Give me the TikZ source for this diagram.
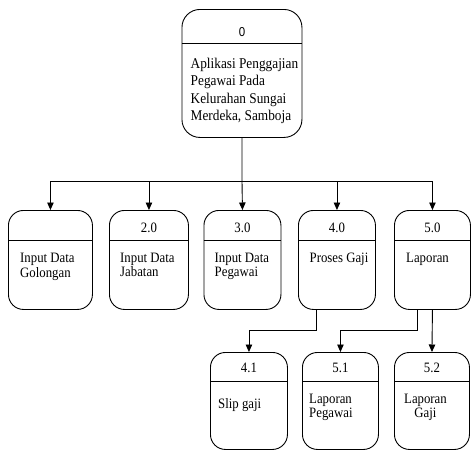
\documentclass[tikz,border=0pt]{standalone}
\usepackage{fontspec}
\usepackage{graphicx}
\setmainfont{Liberation Serif}
\newfontfamily\numsans{Liberation Sans}
\newcommand{\vstr}[1]{\scalebox{1}[1.12]{#1}}
\usetikzlibrary{arrows.meta}
\tikzset{
  proc/.style={draw, line width=0.9pt, rounded corners=15pt, inner sep=0pt, anchor=north west},
  topproc/.style={proc, rounded corners=18pt},
  divline/.style={line width=0.9pt},
  lbl/.style={inner sep=0pt, anchor=base west, font=\fontsize{12.8}{15}\selectfont},
  toplbl/.style={lbl, font=\fontsize{13.3}{15}\selectfont},
  clbl/.style={lbl, anchor=base},
  num/.style={inner sep=0pt, anchor=base, font=\fontsize{12.8}{15}\selectfont},
  conn/.style={line width=0.9pt},
  arr/.style={conn, -{Triangle[length=7.5pt,width=6.5pt]}}
}
\begin{document}
\begin{tikzpicture}[x=1pt,y=-1pt]
\useasboundingbox (0,0) rectangle (471,450);
% top process
\node[topproc, minimum width=120pt, minimum height=128pt] (P0) at (181.5,9) {};
\draw[divline] (P0.west |- 0,43) -- (P0.east |- 0,43);
\node[inner sep=0pt, anchor=base, font=\numsans\fontsize{11.5}{12}\selectfont] (n0) at (242,36) {\vstr{0}};
\node[toplbl] (t0a) at (190.5,68) {\vstr{Aplikasi Penggajian}};
\node[toplbl] (t0b) at (190.5,85.5) {\vstr{Pegawai Pada}};
\node[toplbl] (t0c) at (190.5,103) {\vstr{Kelurahan Sungai}};
\node[toplbl] (t0d) at (190.5,120.5) {\vstr{Merdeka, Samboja}};
% row 1
\node[proc, minimum width=84pt, minimum height=99pt] (B1) at (8,210) {};
\node[proc, minimum width=79pt, minimum height=99pt] (B2) at (109,210) {};
\node[proc, minimum width=77pt, minimum height=99pt] (B3) at (203.5,210) {};
\node[proc, minimum width=77pt, minimum height=99pt] (B4) at (298,210) {};
\node[proc, minimum width=76pt, minimum height=99pt] (B5) at (394,210) {};
\foreach \b in {B1,B2,B3,B4,B5} \draw[divline] (\b.west |- 0,240) -- (\b.east |- 0,240);
\node[num] (n2) at (B2.north |- 0,232.5) {\vstr{2.0}};
\node[num] (n3) at (B3.north |- 0,232.5) {\vstr{3.0}};
\node[num] (n4) at (B4.north |- 0,232.5) {\vstr{4.0}};
\node[num] (n5) at (B5.north |- 0,232.5) {\vstr{5.0}};
\node[lbl] (t1a) at (20,262.7) {\vstr{Input Data}};
\node[lbl] (t1b) at (20,277.3) {\vstr{Golongan}};
\node[lbl] (t2a) at (120,262) {\vstr{Input Data}};
\node[lbl] (t2b) at (120,276.7) {\vstr{Jabatan}};
\node[lbl] (t3a) at (214.5,262) {\vstr{Input Data}};
\node[lbl] (t3b) at (214.5,276.7) {\vstr{Pegawai}};
\node[clbl] (t4a) at (339,262.7) {\vstr{Proses Gaji}};
\node[lbl] (t5a) at (406,262.7) {\vstr{Laporan}};
% row 2
\node[proc, minimum width=77pt, minimum height=97pt] (B41) at (210,352) {};
\node[proc, minimum width=76pt, minimum height=97pt] (B51) at (302,352) {};
\node[proc, minimum width=75pt, minimum height=97pt] (B52) at (394,352) {};
\foreach \b in {B41,B51,B52} \draw[divline] (\b.west |- 0,381) -- (\b.east |- 0,381);
\node[num] (n41) at (B41.north |- 0,372.7) {\vstr{4.1}};
\node[num] (n51) at (B51.north |- 0,372.7) {\vstr{5.1}};
\node[num] (n52) at (B52.north |- 0,372.7) {\vstr{5.2}};
\node[lbl] (t41) at (218,408) {\vstr{Slip gaji}};
\node[lbl] (t51a) at (309,403) {\vstr{Laporan}};
\node[lbl] (t51b) at (309,417.3) {\vstr{Pegawai}};
\node[clbl] (t52a) at (425.5,403) {\vstr{Laporan}};
\node[clbl] (t52b) at (425.5,417.3) {\vstr{Gaji}};
% connectors
\coordinate (j) at (242,181);
\draw[conn] (P0.south) -- (j);
\draw[arr] (j) -| (B1.north);
\draw[arr] (j) -| (B2.north);
\draw[arr] (j) -- (B3.north);
\draw[arr] (j) -| (B4.north);
\draw[arr] (j) -| (B5.north);
\coordinate (s4) at (316,309);
\coordinate (s5a) at (417,309);
\draw[arr] (s4) -- ++(0,21) -| (B41.north);
\draw[arr] (s5a) -- ++(0,21) -| (B51.north);
\draw[arr] (B5.south) -- (B52.north);
\end{tikzpicture}
\end{document}
